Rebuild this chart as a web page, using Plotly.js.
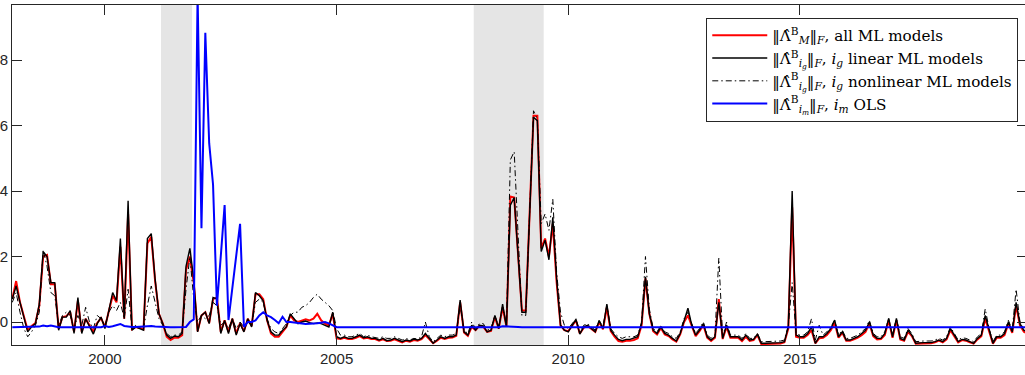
<!DOCTYPE html>
<html><head><meta charset="utf-8">
<script src="https://cdn.plot.ly/plotly-3.0.1.min.js"></script>
<style>html,body{margin:0;padding:0;overflow:hidden;background:#fff}</style>
</head><body><div id="chart"></div>
<script>
// monthly series, Jan 1998 .. Dec 2019
var startYear = 1998;
var allML = [
 0.07,0.125,0.06,0.02,-0.025,-0.012,-0.003,0.05,0.20,0.205,0.115,0.115,
 -0.02,0.015,0.018,0.03,-0.03,0.065,-0.03,0.01,-0.01,-0.03,-0.003,0.012,
 -0.015,0.03,0.08,0.06,0.23,0.01,0.33,-0.022,-0.015,-0.018,-0.022,0.24,
 0.26,0.125,0.025,-0.005,-0.045,-0.055,-0.048,-0.048,-0.04,0.16,0.20,0.12,
 -0.028,0.02,0.03,-0.003,0.07,0.075,-0.03,0.005,-0.03,0.01,-0.035,-0.003,
 -0.028,0.01,-0.012,0.085,0.085,0.07,0.005,-0.035,-0.045,-0.045,-0.03,-0.015,
 0.02,0.005,0.0,0.005,0.008,0.005,0.01,0.025,0.005,-0.005,-0.01,0.025,
 -0.05,-0.052,-0.048,-0.052,-0.052,-0.048,-0.043,-0.05,-0.048,-0.052,-0.052,-0.057,
 -0.053,-0.058,-0.057,-0.053,-0.057,-0.062,-0.057,-0.06,-0.055,-0.057,-0.052,-0.04,
 -0.052,-0.065,-0.057,-0.048,-0.052,-0.048,-0.047,-0.042,0.06,-0.032,-0.042,-0.015,
 -0.025,-0.012,-0.015,-0.03,-0.027,0.015,-0.02,0.045,-0.015,0.383,0.38,0.21,
 0.035,0.035,0.32,0.63,0.63,0.225,0.255,0.2,0.3,0.12,-0.01,-0.025,
 -0.028,-0.012,0.005,-0.035,-0.018,-0.012,-0.022,-0.03,0.0,-0.022,0.045,-0.028,
 -0.045,-0.058,-0.06,-0.057,-0.057,-0.055,-0.05,-0.01,0.133,0.025,-0.028,-0.038,
 -0.018,-0.038,-0.043,-0.053,-0.06,-0.038,0.0,0.02,-0.012,-0.043,-0.028,-0.01,
 -0.048,-0.058,-0.048,0.07,-0.052,-0.015,-0.048,-0.048,-0.048,-0.058,-0.045,-0.058,
 -0.055,-0.04,-0.067,-0.067,-0.067,-0.066,-0.067,-0.066,-0.062,-0.02,0.35,-0.045,
 -0.048,-0.048,-0.04,-0.025,-0.065,-0.05,-0.048,-0.04,-0.025,-0.002,-0.048,-0.033,
 -0.057,-0.057,-0.053,-0.048,-0.04,-0.03,-0.005,-0.043,-0.053,-0.052,-0.04,0.005,
 -0.048,0.005,-0.053,-0.057,-0.03,-0.043,-0.066,-0.066,-0.065,-0.065,-0.065,-0.062,
 -0.057,-0.062,-0.053,-0.025,-0.043,-0.062,-0.055,-0.057,-0.062,-0.066,-0.053,-0.043,
 0.01,-0.028,-0.066,-0.048,-0.048,-0.04,-0.005,-0.033,0.05,-0.01,-0.03,-0.035
];
var linearML = [
 0.07,0.11,0.06,0.015,-0.03,-0.015,-0.005,0.055,0.215,0.20,0.12,0.12,
 -0.025,0.015,0.015,0.035,-0.035,0.075,-0.035,0.01,-0.015,-0.037,-0.005,0.015,
 -0.02,0.035,0.09,0.065,0.255,0.01,0.37,-0.025,-0.015,-0.02,-0.025,0.255,
 0.27,0.13,0.025,-0.005,-0.04,-0.05,-0.043,-0.045,-0.035,0.17,0.225,0.13,
 -0.03,0.02,0.03,-0.005,0.075,0.07,-0.035,0.005,-0.035,0.01,-0.04,-0.005,
 -0.03,0.01,-0.015,0.09,0.08,0.065,0.005,-0.03,-0.04,-0.04,-0.025,-0.015,
 0.025,0.01,-0.005,0.0,0.003,-0.002,-0.005,-0.003,-0.005,-0.01,-0.015,0.03,
 -0.045,-0.05,-0.045,-0.05,-0.05,-0.045,-0.04,-0.048,-0.045,-0.05,-0.05,-0.055,
 -0.05,-0.057,-0.055,-0.05,-0.055,-0.06,-0.055,-0.058,-0.052,-0.055,-0.05,-0.035,
 -0.05,-0.065,-0.055,-0.045,-0.05,-0.045,-0.045,-0.04,0.067,-0.03,-0.04,-0.01,
 -0.025,-0.01,-0.012,-0.03,-0.025,0.02,-0.02,0.055,-0.015,0.357,0.38,0.21,
 0.03,0.03,0.32,0.625,0.615,0.215,0.25,0.19,0.32,0.13,-0.01,-0.025,
 -0.03,-0.01,0.008,-0.037,-0.015,-0.01,-0.02,-0.03,0.004,-0.02,0.055,-0.025,
 -0.04,-0.053,-0.057,-0.053,-0.053,-0.05,-0.045,-0.005,0.138,0.026,-0.025,-0.035,
 -0.015,-0.035,-0.04,-0.05,-0.058,-0.035,0.006,0.042,-0.01,-0.04,-0.025,-0.005,
 -0.045,-0.055,-0.045,0.06,-0.05,-0.01,-0.045,-0.045,-0.045,-0.055,-0.04,-0.055,
 -0.053,-0.037,-0.065,-0.065,-0.065,-0.063,-0.065,-0.063,-0.06,-0.015,0.40,-0.04,
 -0.045,-0.045,-0.035,-0.015,-0.065,-0.045,-0.045,-0.035,-0.02,0.006,-0.045,-0.03,
 -0.055,-0.055,-0.05,-0.045,-0.035,-0.025,0.0,-0.04,-0.05,-0.05,-0.035,0.011,
 -0.045,0.011,-0.05,-0.055,-0.025,-0.04,-0.065,-0.063,-0.063,-0.063,-0.063,-0.06,
 -0.055,-0.06,-0.05,-0.02,-0.04,-0.06,-0.053,-0.055,-0.06,-0.065,-0.05,-0.04,
 0.02,-0.025,-0.065,-0.045,-0.045,-0.035,0.0,-0.03,0.06,-0.005,-0.025,-0.03
];
var nonlinearML = [
 0.06,0.09,0.03,-0.02,-0.045,-0.03,-0.01,0.03,0.22,0.17,0.09,0.08,
 -0.01,0.02,0.03,0.02,-0.02,0.02,-0.01,0.045,0.0,-0.02,0.02,0.01,
 -0.01,0.03,0.05,0.035,0.06,0.01,0.1,-0.02,-0.01,-0.015,-0.02,0.05,
 0.11,0.06,0.01,-0.01,-0.035,-0.045,-0.04,-0.04,-0.03,0.1,0.2,0.07,
 0.0,0.02,0.01,0.02,0.06,0.05,-0.01,0.0,-0.02,0.01,-0.02,0.0,
 -0.015,0.0,-0.01,0.06,0.07,0.06,0.01,-0.02,-0.03,-0.035,-0.02,-0.005,
 0.02,0.03,0.03,0.045,0.05,0.06,0.075,0.085,0.07,0.06,0.05,0.035,
 -0.02,-0.04,-0.04,-0.045,-0.045,-0.04,-0.035,-0.045,-0.04,-0.045,-0.048,-0.05,
 -0.045,-0.05,-0.05,-0.045,-0.05,-0.055,-0.05,-0.055,-0.05,-0.052,-0.045,0.0,
 -0.045,-0.06,-0.05,-0.04,-0.045,-0.04,-0.04,-0.035,0.05,-0.025,-0.035,0.0,
 -0.02,-0.005,-0.005,-0.025,-0.02,0.02,-0.015,0.045,-0.01,0.495,0.52,0.25,
 0.02,0.02,0.33,0.645,0.62,0.3,0.33,0.28,0.375,0.15,0.03,-0.01,
 -0.02,-0.005,0.01,-0.03,-0.01,-0.005,-0.015,-0.025,0.005,-0.015,0.05,-0.02,
 -0.035,-0.045,-0.05,-0.045,-0.045,-0.045,-0.04,0.0,0.2,0.04,-0.02,-0.03,
 -0.01,-0.03,-0.035,-0.045,-0.05,-0.03,0.01,0.03,-0.005,-0.035,-0.02,0.0,
 -0.04,-0.05,-0.04,0.195,-0.045,0.0,-0.04,-0.04,-0.04,-0.05,-0.035,-0.05,
 -0.05,-0.035,-0.06,-0.06,-0.06,-0.058,-0.06,-0.058,-0.055,-0.01,0.12,-0.035,
 -0.04,-0.04,-0.03,0.01,-0.055,-0.01,-0.04,-0.03,-0.015,0.005,-0.04,-0.025,
 -0.05,-0.05,-0.045,-0.04,-0.03,-0.02,0.005,-0.035,-0.045,-0.045,-0.03,0.01,
 -0.04,0.01,-0.045,-0.05,-0.02,-0.035,-0.06,-0.058,-0.058,-0.058,-0.058,-0.055,
 -0.05,-0.055,-0.045,-0.015,-0.035,-0.055,-0.048,-0.05,-0.055,-0.06,-0.045,-0.035,
 0.04,-0.02,-0.06,-0.04,-0.04,-0.03,0.005,-0.025,0.1,0.0,-0.02,-0.025
];
var olsM = [
 -0.016,-0.016,-0.016,-0.016,-0.016,-0.016,-0.015,-0.014,-0.011,-0.013,-0.011,-0.014,
 -0.016,-0.016,-0.016,-0.016,-0.016,-0.016,-0.016,-0.016,-0.016,-0.016,-0.016,-0.016,
 -0.012,-0.015,-0.013,-0.01,-0.006,-0.012,-0.014,-0.015,-0.015,-0.014,-0.012,-0.011,
 -0.012,-0.014,-0.015,-0.016,-0.016,-0.016,-0.016,-0.016,-0.016,-0.015,0.0,0.008,
 1.0,0.286,0.883,0.546,0.42,0.05,0.2,0.357,0.006,0.1,0.2,0.3,
 -0.015,0.0,0.0,0.005,0.02,0.03,0.02,0.015,0.006,-0.004,0.016,0.0,
 0.0,-0.002,-0.004,-0.006,-0.006,-0.005,-0.005,-0.004,-0.002,0.0,-0.004,-0.01,
 -0.016,-0.016,-0.016,-0.016,-0.016,-0.016,-0.016,-0.016,-0.016,-0.016,-0.016,-0.016,
 -0.016,-0.016,-0.016,-0.016,-0.016,-0.016,-0.016,-0.016,-0.016,-0.016,-0.016,-0.016,
 -0.016,-0.016,-0.016,-0.016,-0.016,-0.016,-0.016,-0.016,-0.016,-0.016,-0.016,-0.016,
 -0.016,-0.016,-0.016,-0.016,-0.016,-0.016,-0.016,-0.013,-0.013,-0.013,-0.014,-0.015,
 -0.016,-0.016,-0.016,-0.016,-0.016,-0.016,-0.016,-0.016,-0.016,-0.016,-0.016,-0.016,
 -0.016,-0.016,-0.016,-0.016,-0.016,-0.016,-0.016,-0.016,-0.016,-0.016,-0.016,-0.016,
 -0.016,-0.016,-0.016,-0.016,-0.016,-0.016,-0.016,-0.016,-0.016,-0.016,-0.016,-0.016,
 -0.016,-0.016,-0.016,-0.016,-0.016,-0.016,-0.016,-0.016,-0.016,-0.016,-0.016,-0.016,
 -0.016,-0.016,-0.016,-0.016,-0.016,-0.016,-0.016,-0.016,-0.016,-0.016,-0.016,-0.016,
 -0.016,-0.016,-0.016,-0.016,-0.016,-0.016,-0.016,-0.016,-0.016,-0.016,-0.016,-0.016,
 -0.016,-0.016,-0.016,-0.016,-0.016,-0.016,-0.016,-0.016,-0.016,-0.016,-0.016,-0.016,
 -0.016,-0.016,-0.016,-0.016,-0.016,-0.016,-0.016,-0.016,-0.016,-0.016,-0.016,-0.016,
 -0.016,-0.016,-0.016,-0.016,-0.016,-0.016,-0.016,-0.016,-0.016,-0.016,-0.016,-0.016,
 -0.016,-0.016,-0.016,-0.016,-0.016,-0.016,-0.016,-0.016,-0.016,-0.016,-0.016,-0.016,
 -0.016,-0.016,-0.016,-0.016,-0.016,-0.016,-0.016,-0.016,-0.016,-0.016,-0.016,-0.016
];
var recessionStart = [2001.21, 2007.96];
var recessionEnd = [2001.88, 2009.47];
var xTickVals = [2000, 2005, 2010, 2015];
var xTickText = ['2000', '2005', '2010', '2015'];
var yTickVals = [0, 0.2, 0.4, 0.6, 0.8];
var yTickText = ['0', '0.2', '0.4', '0.6', '0.8'];
var names = [
 '‖Λ̂<sup>B</sup><sub><i>M</i></sub>‖<sub><i>F</i></sub>, all ML models',
 '‖Λ̂<sup>B</sup><sub><i>i<sub>g</sub></i></sub>‖<sub><i>F</i></sub>, <i>i<sub>g</sub></i> linear ML models',
 '‖Λ̂<sup>B</sup><sub><i>i<sub>g</sub></i></sub>‖<sub><i>F</i></sub>, <i>i<sub>g</sub></i> nonlinear ML models',
 '‖Λ̂<sup>B</sup><sub><i>i<sub>m</sub></i></sub>‖<sub><i>F</i></sub>, <i>i<sub>m</sub></i> OLS'
];

var t = [];
for (var i = 0; i < allML.length; i++) t.push(startYear + i / 12);

var traces = [
 {x: t, y: allML, name: names[0], type: 'scatter', mode: 'lines', line: {color: '#ff0000', width: 2}},
 {x: t, y: linearML, name: names[1], type: 'scatter', mode: 'lines', line: {color: '#000000', width: 1.4}},
 {x: t, y: nonlinearML, name: names[2], type: 'scatter', mode: 'lines', line: {color: '#000000', width: 1, dash: '6px,3px,1.5px,3px'}},
 {x: t, y: olsM, name: names[3], type: 'scatter', mode: 'lines', line: {color: '#0000ff', width: 2}}
];

var shapes = [];
for (var k = 0; k < recessionStart.length; k++) {
 shapes.push({type: 'rect', xref: 'x', yref: 'paper', x0: recessionStart[k], x1: recessionEnd[k], y0: 0, y1: 1,
   fillcolor: '#e5e5e5', line: {width: 0}, layer: 'below'});
}

var tickFont = {family: 'Liberation Sans, Arial, sans-serif', size: 15, color: '#262626'};
var layout = {
 width: 1027, height: 375,
 margin: {l: 12, r: 0, t: 5, b: 30},
 paper_bgcolor: '#ffffff', plot_bgcolor: '#ffffff',
 showlegend: true,
 legend: {x: 0.684, y: 0.962, xanchor: 'left', yanchor: 'top', bgcolor: '#ffffff',
   bordercolor: '#262626', borderwidth: 1, itemwidth: 55, tracegroupgap: 0,
   font: {family: 'DejaVu Serif, Liberation Serif, serif', size: 15.2, color: '#000'}},
 xaxis: {range: [1997.994, 2019.902], tickmode: 'array', tickvals: xTickVals, ticktext: xTickText,
   ticks: 'inside', ticklen: 10, tickcolor: '#262626', showline: true, linecolor: '#262626', linewidth: 1,
   mirror: 'ticks', showgrid: false, zeroline: false, tickfont: tickFont},
 yaxis: {range: [-0.0702, 0.968], tickmode: 'array', tickvals: yTickVals, ticktext: yTickText,
   ticks: 'inside', ticklen: 10, tickcolor: '#262626', showline: true, linecolor: '#262626', linewidth: 1,
   mirror: 'ticks', showgrid: false, zeroline: false, tickfont: tickFont},
 shapes: shapes
};
Plotly.newPlot('chart', traces, layout, {displayModeBar: false, staticPlot: true});
</script></body></html>
